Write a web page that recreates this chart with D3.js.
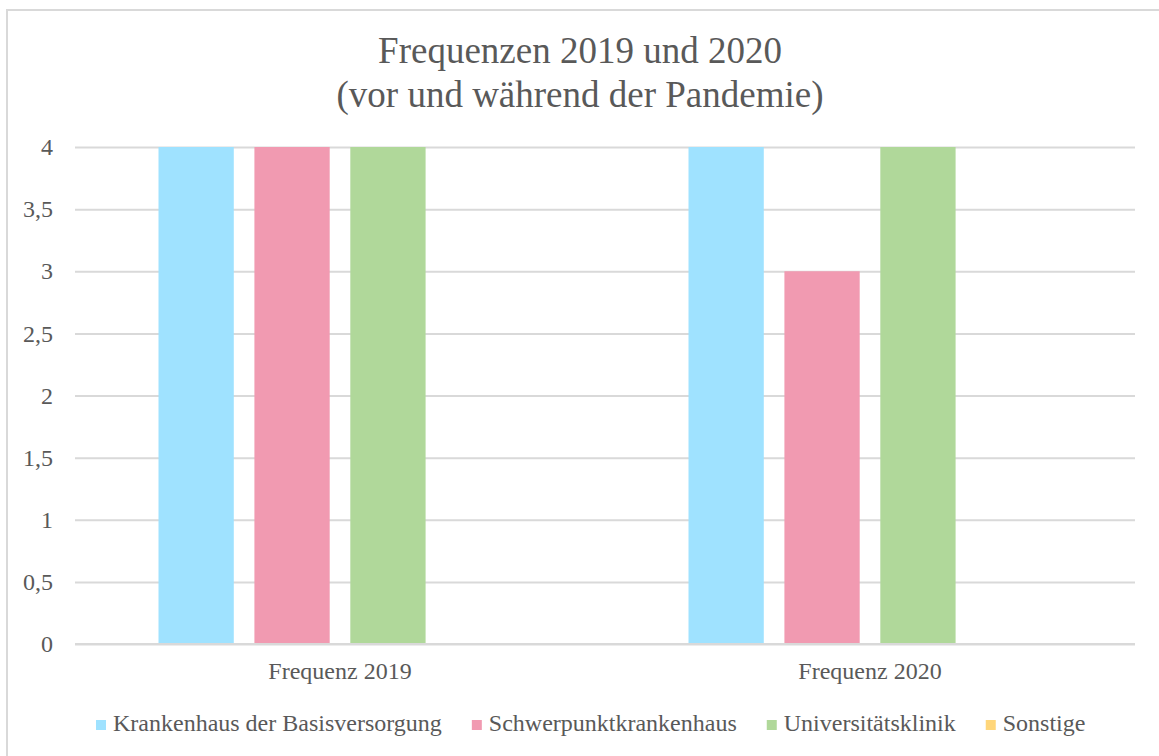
<!DOCTYPE html>
<html>
<head>
<meta charset="utf-8">
<script src="https://cdn.jsdelivr.net/npm/d3@7/dist/d3.min.js"></script>
<style>
  html, body { margin: 0; padding: 0; background: #fff; }
  svg { display: block; font-family: "Liberation Serif", "Times New Roman", serif; }
</style>
</head>
<body>
<svg id="chart" width="1159" height="756"></svg>
<script>
const titleLines = ["Frequenzen 2019 und 2020", "(vor und während der Pandemie)"];
const categories = ["Frequenz 2019", "Frequenz 2020"];
const seriesNames = ["Krankenhaus der Basisversorgung", "Schwerpunktkrankenhaus", "Universitätsklinik", "Sonstige"];
const seriesColors = ["#9FE2FF", "#F19AB1", "#B0D89A", "#FFD67A"];
const valuesBasis = [4, 4];
const valuesSchwerpunkt = [4, 3];
const valuesUni = [4, 4];
const valuesSonstige = [0, 0];
const yTicks = [0, 0.5, 1, 1.5, 2, 2.5, 3, 3.5, 4];

const seriesValues = [valuesBasis, valuesSchwerpunkt, valuesUni, valuesSonstige];

const svg = d3.select("#chart");
const textColor = "#595959";
const gridColor = "#D9D9D9";

// outer frame (only top/left edges visible in reference)
svg.append("rect")
  .attr("x", 7).attr("y", 10)
  .attr("width", 1200).attr("height", 800)
  .attr("fill", "none").attr("stroke", gridColor).attr("stroke-width", 2);

const plot = { left: 75, right: 1135, top: 147, bottom: 644 };

const x0 = d3.scaleBand().domain(categories).range([plot.left, plot.right]).paddingInner(0).paddingOuter(0);
const groupPad = 83.5;
const x1 = d3.scaleBand().domain(seriesNames)
  .range([groupPad, x0.bandwidth() - groupPad])
  .paddingInner(0.215).paddingOuter(0);
const y = d3.scaleLinear().domain([0, 4]).range([plot.bottom, plot.top]);

const fmt = v => d3.format("")(v).replace(".", ",");

// gridlines + y labels via axis
const yAxis = d3.axisLeft(y).tickValues(yTicks).tickSize(-(plot.right - plot.left)).tickPadding(22).tickFormat(fmt);
const gy = svg.append("g").attr("transform", `translate(${plot.left},0)`).call(yAxis);
gy.select(".domain").remove();
gy.selectAll(".tick line").attr("stroke", gridColor).attr("stroke-width", 2);
gy.selectAll(".tick text")
  .attr("fill", textColor)
  .attr("font-size", 24)
  .attr("font-family", "Liberation Serif, serif");

// bars
const groups = svg.append("g").selectAll("g")
  .data(categories)
  .join("g")
  .attr("transform", d => `translate(${x0(d)},0)`);

groups.selectAll("rect")
  .data((c, ci) => seriesNames.map((s, si) => ({ s, si, v: seriesValues[si][ci] })))
  .join("rect")
  .attr("x", d => x1(d.s))
  .attr("width", x1.bandwidth())
  .attr("y", d => y(d.v))
  .attr("height", d => y(0) - y(d.v))
  .attr("fill", d => seriesColors[d.si]);

// x axis baseline
svg.append("line")
  .attr("x1", plot.left).attr("x2", plot.right)
  .attr("y1", y(0)).attr("y2", y(0))
  .attr("stroke", gridColor).attr("stroke-width", 2);

// category labels
const xAxis = d3.axisBottom(x0).tickSize(0).tickPadding(0);
const gx = svg.append("g").attr("transform", `translate(0,${y(0)})`).call(xAxis);
gx.select(".domain").remove();
gx.selectAll(".tick text")
  .attr("fill", textColor)
  .attr("font-size", 24)
  .attr("font-family", "Liberation Serif, serif")
  .attr("dy", null)
  .attr("y", 35);

// title
svg.append("text")
  .attr("x", 580).attr("y", 63)
  .attr("text-anchor", "middle")
  .attr("fill", textColor)
  .attr("font-size", 37)
  .selectAll("tspan")
  .data(titleLines)
  .join("tspan")
  .attr("x", 580)
  .attr("dy", (d, i) => i === 0 ? 0 : 44)
  .text(d => d);

// legend
const legend = svg.append("g");
let lx = 96;
const ly = 731;
seriesNames.forEach((name, i) => {
  const g = legend.append("g");
  g.append("rect").attr("x", lx).attr("y", ly - 11).attr("width", 10).attr("height", 10).attr("fill", seriesColors[i]);
  const t = g.append("text").attr("x", lx + 17).attr("y", ly)
    .attr("fill", textColor).attr("font-size", 24).text(name);
  const w = t.node().getComputedTextLength();
  lx = lx + 17 + w + 30;
});
</script>
</body>
</html>
